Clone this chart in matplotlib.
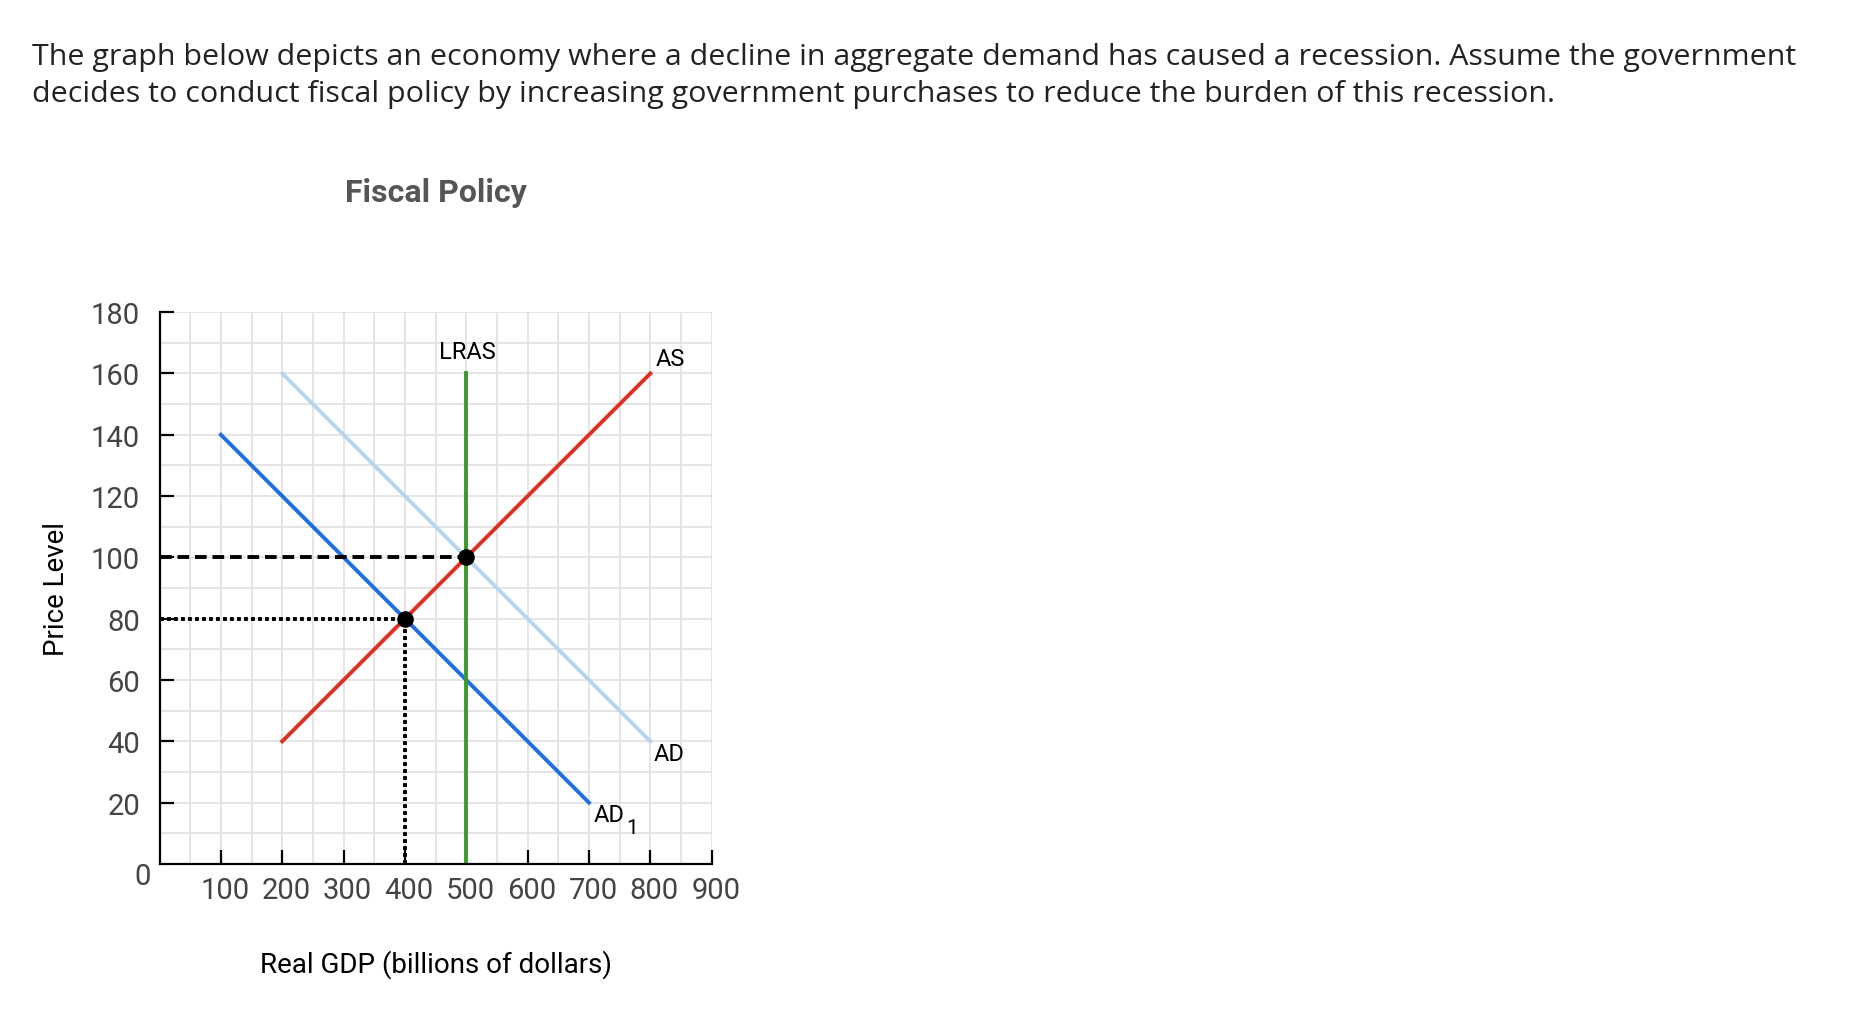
import numpy as np
import matplotlib.pyplot as plt
import matplotlib.transforms as mtransforms
from matplotlib.ticker import MultipleLocator

plt.rcParams['font.family'] = ['Roboto', 'DejaVu Sans']

# curve end points (x = real GDP, y = price level)
ad1_x = [100, 700]
ad1_y = [140, 20]
ad_x = [200, 800]
ad_y = [160, 40]
as_x = [200, 800]
as_y = [40, 160]
lras_x = [500, 500]
lras_y = [0, 160]

# equilibrium points
eq_x = [500, 400]
eq_y = [100, 80]

x_ticks = [100, 200, 300, 400, 500, 600, 700, 800, 900]
y_ticks = [20, 40, 60, 80, 100, 120, 140, 160, 180]

fig = plt.figure(figsize=(18.66, 10.20), dpi=100)
ax = fig.add_axes([0.0855, 0.152, 0.2959, 0.541])

ax.set_xlim(0, 900)
ax.set_ylim(0, 180)
ax.xaxis.set_minor_locator(MultipleLocator(50))
ax.yaxis.set_minor_locator(MultipleLocator(10))
ax.grid(True, which='both', color='#e3e3e3', lw=1.3, zorder=0)
ax.set_axisbelow(True)
for s in ['top', 'right']:
    ax.spines[s].set_visible(False)
for s in ['left', 'bottom']:
    ax.spines[s].set_linewidth(1.6)
    ax.spines[s].set_zorder(5)

ax.set_xticks(x_ticks)
ax.set_yticks(y_ticks)
ax.tick_params(which='major', direction='in', length=10, width=1.6,
               labelsize=21, labelcolor='#444444')
ax.tick_params(axis='y', pad=14)
ax.tick_params(axis='x', pad=9)
ax.tick_params(which='minor', length=0)
# x labels sit a little right of their ticks
shift = mtransforms.ScaledTranslation(0.04, 0, fig.dpi_scale_trans)
for lbl in ax.get_xticklabels():
    lbl.set_transform(lbl.get_transform() + shift)
ax.text(-28, -4, '0', fontsize=21, color='#444444', ha='center', va='center')

ax.plot(ad_x, ad_y, color='#b7d5f0', lw=2.8, zorder=3)
ax.plot(ad1_x, ad1_y, color='#1f6fe0', lw=2.8, zorder=3)
ax.plot(as_x, as_y, color='#dc3022', lw=2.8, zorder=3)
ax.plot(lras_x, lras_y, color='#3c9a2c', lw=2.8, zorder=4)

# reference lines to axes
ax.plot([0, eq_x[0]], [eq_y[0], eq_y[0]], color='black', lw=2.8, ls=(0, (3, 1.5)), zorder=4)
ax.plot([0, eq_x[1]], [eq_y[1], eq_y[1]], color='black', lw=2.8, ls=(0, (1, 0.8)), zorder=4)
ax.plot([eq_x[1], eq_x[1]], [0, eq_y[1]], color='black', lw=2.8, ls=(0, (1, 0.8)), zorder=4)
ax.scatter(eq_x, eq_y, s=120, color='black', zorder=6)

ax.text(502, 167, 'LRAS', fontsize=17, ha='center', va='center')
ax.text(832, 165, 'AS', fontsize=17, ha='center', va='center')
ax.text(830, 36, 'AD', fontsize=17, ha='center', va='center')
ax.text(733, 16, 'AD', fontsize=17, ha='center', va='center')
ax.text(770, 12, '1', fontsize=15, ha='center', va='center')

fig.text(0.2334, 0.811, 'Fiscal Policy', fontsize=23, fontweight='bold',
         color='#555555', ha='center', va='center')
fig.text(0.0305, 0.4225, 'Price Level', fontsize=20, rotation=90,
         ha='center', va='center')
fig.text(0.2334, 0.054, 'Real GDP (billions of dollars)', fontsize=20,
         ha='center', va='center')

fig.text(0.017, 0.9435,
         'The graph below depicts an economy where a decline in aggregate demand has caused a recession. Assume the government',
         fontsize=21.9, family='Open Sans', ha='left', va='center', color='#222222')
fig.text(0.017, 0.9075,
         'decides to conduct fiscal policy by increasing government purchases to reduce the burden of this recession.',
         fontsize=21.9, family='Open Sans', ha='left', va='center', color='#222222')

fig.savefig('out.png', dpi=100)
